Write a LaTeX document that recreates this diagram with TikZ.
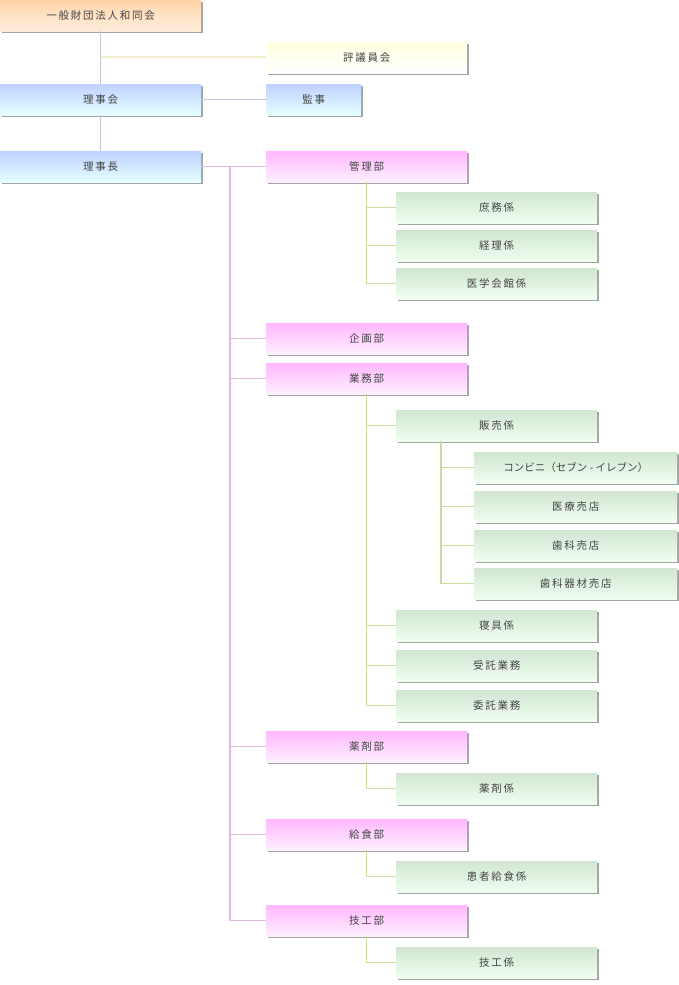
\documentclass[tikz,border=0pt]{standalone}
\usepackage{fontspec}
\setmainfont{Noto Sans CJK JP}
\usetikzlibrary{shadows}
\definecolor{txt}{HTML}{444444}
\definecolor{lnblue}{HTML}{C4C8DC}
\definecolor{lnyel}{HTML}{F2EECC}
\definecolor{lnpink}{HTML}{E2B8E0}
\definecolor{lngreen}{HTML}{C8DDA0}
\tikzset{
  box/.style={anchor=north west, minimum height=31pt, inner sep=0pt, text=txt,
    font=\fontsize{10.5}{12}\selectfont,
    drop shadow={shadow xshift=1.4pt, shadow yshift=-1.4pt, fill=black!45, opacity=.8}},
  topbox/.style={box, minimum width=201pt, top color=orange!35, bottom color=orange!15!white, middle color=orange!22},
  yelbox/.style={box, minimum width=201pt, top color=yellow!12, bottom color=white},
  bluebox/.style={box, top color=cyan!30!blue!25, bottom color=cyan!10!white},
  pinkbox/.style={box, minimum width=201pt, top color=magenta!28, bottom color=magenta!6!white},
  grnbox/.style={box, minimum width=201pt, top color=green!45!black!18!white, bottom color=green!6!white},
  subbox/.style={grnbox, minimum width=203pt}
}
\begin{document}
\begin{tikzpicture}[x=1pt,y=-1pt]
  \useasboundingbox (0,0) rectangle (678,985);
  % connectors first
  \coordinate (trunk) at (230,167);
  \coordinate (mid) at (100,57);
  \node[topbox] (wado) at (0,0) {一\,般\,財\,団\,法\,人\,和\,同\,会};
  \node[yelbox] (hyogi) at (266,42) {評\,議\,員\,会};
  \node[bluebox, minimum width=201pt] (rijikai) at (0,84) {理\,事\,会};
  \node[bluebox, minimum width=95pt] (kanji) at (266,84) {監\,事};
  \node[bluebox, minimum width=201pt] (rijicho) at (0,151) {理\,事\,長};
  \begin{scope}[on background layer/.style={}]
  \end{scope}
  \node[pinkbox] (kanri) at (266,151) {管\,理\,部};
  \node[grnbox] (shomu) at (396,192) {庶\,務\,係};
  \node[grnbox] (keiri) at (396,230) {経\,理\,係};
  \node[grnbox] (kaikan) at (396,268) {医\,学\,会\,館\,係};
  \node[pinkbox] (kikaku) at (266,323) {企\,画\,部};
  \node[pinkbox] (gyomu) at (266,363) {業\,務\,部};
  \node[grnbox] (hanbai) at (396,410) {販\,売\,係};
  \node[subbox] (konbini) at (474,452) {コンビニ（セブン - イレブン）};
  \node[subbox] (iryo) at (474,491) {医\,療\,売\,店};
  \node[subbox] (shika) at (474,530) {歯\,科\,売\,店};
  \node[subbox] (kizai) at (474,568) {歯\,科\,器\,材\,売\,店};
  \node[grnbox] (shingu) at (396,610) {寝\,具\,係};
  \node[grnbox] (jutaku) at (396,650) {受\,託\,業\,務};
  \node[grnbox] (itaku) at (396,690) {委\,託\,業\,務};
  \node[pinkbox] (yakuzai) at (266,731) {薬\,剤\,部};
  \node[grnbox] (yakkei) at (396,773) {薬\,剤\,係};
  \node[pinkbox] (kyushoku) at (266,819) {給\,食\,部};
  \node[grnbox] (kanja) at (396,861) {患\,者\,給\,食\,係};
  \node[pinkbox] (giko) at (266,905) {技\,工\,部};
  \node[grnbox] (gikokei) at (396,947) {技\,工\,係};
  \coordinate (hb) at ([xshift=45pt]hanbai.south west);
  \begin{scope}[line width=1.2pt]
    \draw[lnblue] (wado) -- (rijikai);
    \draw[lnblue] (rijikai) -- (rijicho);
    \draw[lnblue] (rijikai) -- (kanji);
    \draw[lnyel] ([xshift=1pt]mid) -- (mid -| hyogi.west);
    \draw[lnpink] (rijicho) -- (kanri);
    \draw[lnpink] (trunk) |- (giko.west);
    \draw[lnpink] (trunk |- kikaku.west) -- (kikaku.west);
    \draw[lnpink] (trunk |- gyomu.west) -- (gyomu.west);
    \draw[lnpink] (trunk |- yakuzai.west) -- (yakuzai.west);
    \draw[lnpink] (trunk |- kyushoku.west) -- (kyushoku.west);
    \draw[lngreen] (kanri.south) |- (kaikan.west);
    \draw[lngreen] (kanri.south |- shomu.west) -- (shomu.west);
    \draw[lngreen] (kanri.south |- keiri.west) -- (keiri.west);
    \draw[lngreen] (gyomu.south) |- (itaku.west);
    \draw[lngreen] (gyomu.south |- hanbai.west) -- (hanbai.west);
    \draw[lngreen] (gyomu.south |- shingu.west) -- (shingu.west);
    \draw[lngreen] (gyomu.south |- jutaku.west) -- (jutaku.west);
    \draw[lngreen] (hb) |- (kizai.west);
    \draw[lngreen] (hb |- konbini.west) -- (konbini.west);
    \draw[lngreen] (hb |- iryo.west) -- (iryo.west);
    \draw[lngreen] (hb |- shika.west) -- (shika.west);
    \draw[lngreen] (yakuzai.south) |- (yakkei.west);
    \draw[lngreen] (kyushoku.south) |- (kanja.west);
    \draw[lngreen] (giko.south) |- (gikokei.west);
  \end{scope}
\end{tikzpicture}
\end{document}
